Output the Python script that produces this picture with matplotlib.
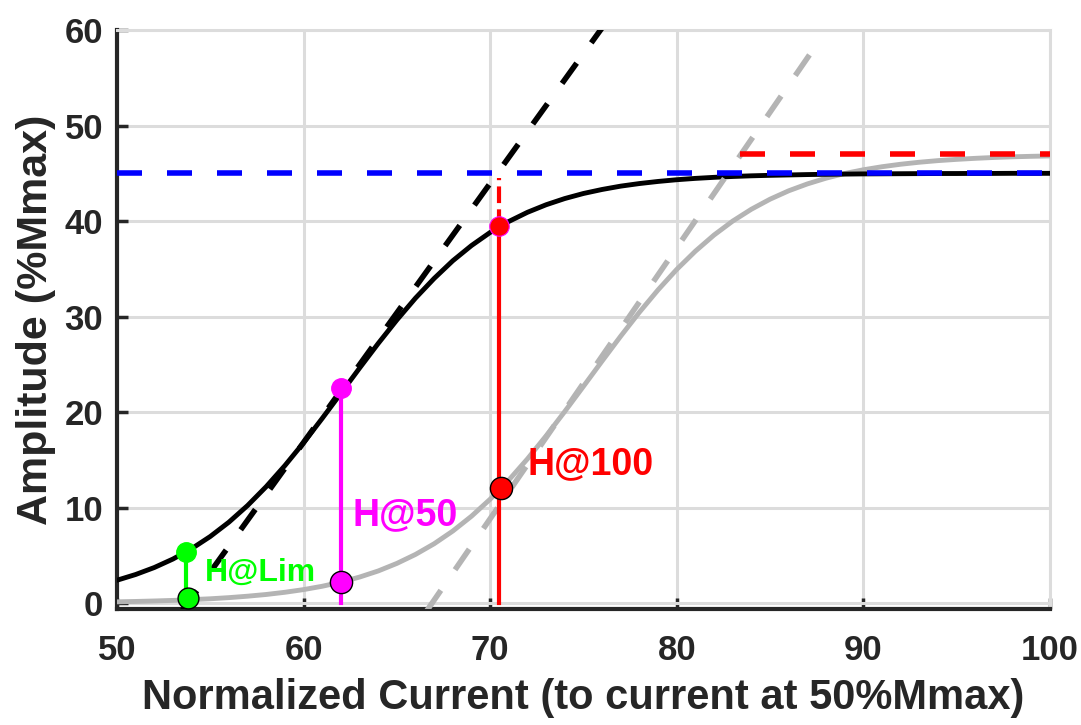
import matplotlib
matplotlib.use("Agg")
import matplotlib.pyplot as plt

plt.rcParams['font.family'] = ['Liberation Sans', 'DejaVu Sans']

# recruitment curves
cur = [50, 51, 52, 53, 54, 55, 56, 57, 58, 59, 60, 61, 62, 63, 64, 65, 66,
       67, 68, 69, 70, 71, 72, 73, 74, 75, 76, 77, 78, 79, 80, 81, 82, 83,
       84, 85, 86, 87, 88, 89, 90, 91, 92, 93, 94, 95, 96, 97, 98, 99, 100]
amp_black = [2.41, 3.01, 3.74, 4.63, 5.71, 6.99, 8.49, 10.23, 12.21, 14.41,
             16.80, 19.35, 21.97, 24.61, 27.19, 29.65, 31.94, 34.00, 35.85,
             37.44, 38.81, 39.96, 40.92, 41.71, 42.36, 42.89, 43.31, 43.66,
             43.93, 44.15, 44.33, 44.47, 44.58, 44.67, 44.74, 44.79, 44.83,
             44.87, 44.90, 44.92, 44.94, 44.95, 44.96, 44.97, 44.98, 44.98,
             44.99, 44.99, 45.0, 45.0, 45.0]
amp_gray = [0.15, 0.19, 0.24, 0.30, 0.38, 0.47, 0.59, 0.74, 0.92, 1.15,
            1.43, 1.78, 2.21, 2.74, 3.38, 4.17, 5.11, 6.23, 7.56, 9.11,
            10.89, 12.89, 15.11, 17.52, 20.07, 22.70, 25.35, 27.96, 30.46,
            32.80, 34.94, 36.85, 38.54, 40.00, 41.24, 42.29, 43.17, 43.89,
            44.49, 44.98, 45.37, 45.69, 45.95, 46.16, 46.33, 46.46, 46.57,
            46.66, 46.73, 46.78, 46.82]

# tangent (slope) lines
tan_black_x = [53.5, 76.1]
tan_black_y = [-0.8, 60.5]
tan_gray_x = [66.6, 87.4]
tan_gray_y = [-0.8, 58.2]

# plateau lines
plateau_black = 45
plateau_gray = 47
plateau_gray_start = 83.4

# H-reflex markers: (x, lower y, upper y)
h_lim = (53.7, 0.5, 5.4)
h_50 = (62.0, 2.2, 22.5)
h_100 = (70.5, 12.1, 39.5)
h_100_top = 44.5

fig = plt.figure(figsize=(10.81, 7.25), dpi=100)
ax = fig.add_axes([0.1082, 0.160, 0.863, 0.7986])

gray = '#b4b4b4'
lw_c = 3.5
dash = dict(lw=4, dashes=[4.5, 4.5])

ax.plot(cur, amp_gray, color=gray, lw=lw_c, zorder=3)
ax.plot(cur, amp_black, color='black', lw=lw_c, zorder=3)
ax.plot(tan_gray_x, tan_gray_y, color=gray, zorder=3, **dash)
ax.plot(tan_black_x, tan_black_y, color='black', zorder=3, **dash)
ax.plot([plateau_gray_start, 100], [plateau_gray] * 2, color='red', zorder=4, **dash)
ax.plot([50, 100], [plateau_black] * 2, color='blue', zorder=4, **dash)

# vertical bars
ax.plot([h_lim[0]] * 2, [h_lim[1], h_lim[2]], color='#00ff00', lw=3, zorder=5)
ax.plot([h_50[0]] * 2, [0, h_50[2]], color='magenta', lw=3, zorder=5)
ax.plot([h_100[0]] * 2, [0, h_100[2]], color='red', lw=3, zorder=5)
ax.plot([h_100[0]] * 2, [h_100[2], h_100_top], color='red', lw=3, dashes=[4, 1.5], zorder=5)

# points
ax.plot(h_lim[0], h_lim[2], 'o', color='#00ff00', ms=14, mec='#00ff00', zorder=6)
ax.plot(h_lim[0] + 0.1, h_lim[1], 'o', color='#00ff00', ms=15, mec='black', mew=1, zorder=6)
ax.plot(h_50[0], h_50[2], 'o', color='magenta', ms=14, mec='magenta', zorder=6)
ax.plot(h_50[0], h_50[1], 'o', color='magenta', ms=16, mec='black', mew=1, zorder=6)
ax.plot(h_100[0], h_100[2], 'o', color='red', ms=14, mec='magenta', mew=0.8, zorder=6)
ax.plot(h_100[0] + 0.1, h_100[1], 'o', color='red', ms=16, mec='black', mew=1, zorder=6)

ax.text(54.7, 3.2, 'H@Lim', color='#00ff00', fontsize=23, fontweight='bold',
        va='center', ha='left', zorder=7)
ax.text(62.6, 9.2, 'H@50', color='magenta', fontsize=27, fontweight='bold',
        va='center', ha='left', zorder=7)
ax.text(72.0, 14.6, 'H@100', color='red', fontsize=27, fontweight='bold',
        va='center', ha='left', zorder=7)

ax.set_xlim(50, 100)
ax.set_ylim(-0.6, 60)
ax.set_xticks(range(50, 101, 10))
ax.set_yticks(range(0, 61, 10))

ax.grid(True, color='#dcdcdc', lw=2.2, zorder=0)
ax.set_axisbelow(True)
for s in ['top', 'right']:
    ax.spines[s].set_color('#dcdcdc')
    ax.spines[s].set_linewidth(2.2)
for s in ['left', 'bottom']:
    ax.spines[s].set_color('#262626')
    ax.spines[s].set_linewidth(3)
ax.tick_params(direction='in', length=8, width=2.5, color='#262626',
               labelsize=25, pad=10, labelcolor='#262626')
ax.tick_params(axis='x', pad=18)
for lab in ax.get_xticklabels() + ax.get_yticklabels():
    lab.set_fontweight('bold')

ax.set_xlabel('Normalized Current (to current at 50%Mmax)', fontsize=30,
              fontweight='bold', color='#262626', labelpad=8)
ax.set_ylabel('Amplitude (%Mmax)', fontsize=31, fontweight='bold',
              color='#262626', labelpad=6)

fig.savefig('out.png', dpi=100)
